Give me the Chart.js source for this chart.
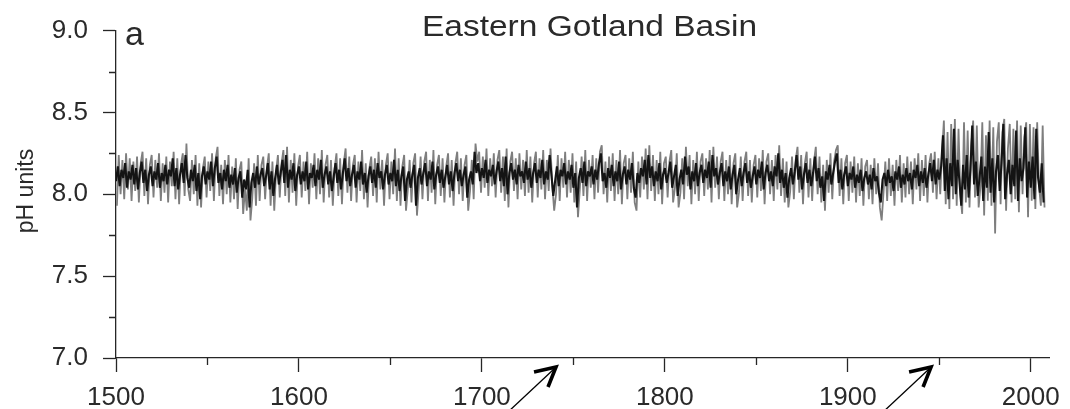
<!DOCTYPE html>
<html>
<head>
<meta charset="utf-8">
<script src="https://cdn.jsdelivr.net/npm/chart.js@4.4.1/dist/chart.umd.min.js"></script>
<style>
  html, body { margin: 0; padding: 0; background: #ffffff; }
  #wrap { width: 1070px; height: 409px; position: relative; }
</style>
</head>
<body>
<div id="wrap"><canvas id="c" width="1070" height="409"></canvas></div>
<script>
// ---------------- DATA ----------------
const chartTitle = "Eastern Gotland Basin";
const panelLabel = "a";
const yAxisTitle = "pH units";
const startYear = 1500;           // first sample year of both series
const xTickValues = [1500, 1600, 1700, 1800, 1900, 2000];
const xMinorTicks = [1550, 1650, 1750, 1850, 1950];
const yTickValues = [7.0, 7.5, 8.0, 8.5, 9.0];
const yMinorTicks = [7.25, 7.75, 8.25, 8.75];
const arrowYears = [1740.5, 1945.5];

// black series, one value per year 1500..2007
const blackPH = [
  8.08,8.17,8.05,8.15,8.10,8.19,8.04,8.14,8.09,8.18,
  8.06,8.16,8.03,8.13,8.20,8.07,8.15,8.02,8.12,8.17,
  8.05,8.14,8.09,8.19,8.04,8.13,8.08,8.18,8.06,8.15,
  8.11,8.22,8.05,8.16,8.03,8.12,8.19,8.07,8.24,8.10,
  8.04,8.15,8.08,8.18,8.02,8.13,7.97,8.11,8.17,8.06,
  8.14,8.09,8.20,8.05,8.16,8.23,8.07,8.13,8.03,8.15,
  8.08,8.18,8.04,8.12,8.06,8.16,8.01,8.10,8.14,7.98,
  8.09,8.03,8.15,7.92,8.07,8.13,8.04,8.17,8.06,8.12,
  8.16,8.05,8.11,8.19,8.03,8.14,7.99,8.10,8.18,8.06,
  8.13,8.21,8.07,8.24,8.04,8.15,8.09,8.19,8.02,8.12,
  8.17,8.06,8.14,8.08,8.20,8.03,8.13,8.10,8.18,8.05,
  8.15,8.09,8.21,8.04,8.12,8.17,8.06,8.14,8.02,8.11,
  8.19,8.07,8.15,8.03,8.13,8.22,8.08,8.16,8.05,8.12,
  8.18,8.04,8.14,8.09,8.20,8.06,8.13,8.01,8.11,8.17,
  8.07,8.15,8.04,8.19,8.10,8.14,8.03,8.12,8.18,8.06,
  8.13,8.08,8.21,8.05,8.15,8.02,8.11,8.17,7.96,8.09,
  8.14,8.04,8.12,8.18,7.93,8.10,8.16,8.06,8.13,8.19,
  8.05,8.14,8.09,8.20,8.03,8.12,8.17,8.07,8.15,8.04,
  8.11,8.18,8.06,8.14,8.02,8.13,8.19,8.08,8.15,8.05,
  8.12,8.17,7.98,8.09,8.14,8.06,8.26,8.13,8.19,8.08,
  8.16,8.10,8.21,8.07,8.15,8.11,8.18,8.06,8.14,8.20,
  8.08,8.16,8.05,8.23,8.00,8.13,8.19,8.09,8.15,8.06,
  8.18,8.11,8.14,8.07,8.20,8.09,8.16,8.04,8.13,8.19,
  8.07,8.15,8.10,8.21,8.06,8.14,8.09,8.24,8.12,7.99,
  8.08,8.17,8.05,8.15,8.11,8.19,8.06,8.14,8.09,8.18,
  8.04,8.13,7.92,8.10,8.16,8.07,8.20,8.05,8.14,8.11,
  8.17,8.06,8.15,8.09,8.19,8.25,8.08,8.13,8.04,8.16,
  8.10,8.18,8.05,8.14,8.08,8.20,8.03,8.12,8.17,8.06,
  8.15,8.09,8.19,8.04,7.98,8.13,8.07,8.16,8.11,8.21,
  8.06,8.24,8.10,8.17,8.05,8.14,8.08,8.19,8.03,8.12,
  8.16,8.07,8.13,8.20,8.04,8.11,8.18,7.99,8.09,8.15,
  8.06,8.23,8.12,8.17,8.03,8.14,8.08,8.19,8.05,8.13,
  8.18,8.07,8.15,8.10,8.20,8.04,8.24,8.11,8.16,8.06,
  8.13,8.19,8.05,8.14,8.08,8.17,8.03,8.12,8.18,8.00,
  8.09,8.16,8.05,8.13,8.19,8.07,8.14,8.04,8.11,8.17,
  8.06,8.15,8.10,8.20,8.03,8.13,8.18,8.08,8.14,8.05,
  8.17,8.11,8.25,8.07,8.15,8.04,8.13,7.98,8.10,8.16,
  8.06,8.14,8.24,8.09,8.17,8.03,8.12,8.19,8.07,8.15,
  8.05,8.13,8.23,8.08,8.16,8.04,8.11,7.96,8.14,8.09,
  8.18,8.06,8.13,8.20,8.25,8.07,8.15,8.03,8.12,8.17,
  8.05,8.13,8.09,8.17,8.04,8.12,8.07,8.15,8.02,8.10,
  8.14,8.06,8.12,8.03,8.16,8.08,8.11,8.01,7.95,8.09,
  8.13,8.05,8.15,8.07,8.11,8.02,8.14,8.09,8.17,8.04,
  8.12,8.06,8.16,8.08,8.13,8.03,8.15,8.10,8.18,8.05,
  8.14,8.07,8.16,8.04,8.12,8.19,8.08,8.21,8.06,8.15,
  8.09,8.17,8.36,8.02,8.22,7.97,8.19,8.05,8.40,8.00,
  8.21,8.08,7.93,8.18,8.03,8.24,7.98,8.15,8.42,8.06,
  8.20,7.99,8.10,8.23,7.96,8.17,8.04,8.38,8.01,8.22,
  7.95,8.14,8.24,8.02,8.19,8.43,7.97,8.12,8.21,8.00,
  8.18,8.05,8.39,7.96,8.22,8.08,8.16,8.41,7.98,8.20,
  8.04,8.23,7.97,8.40,8.10,8.01,8.19,7.95
];

// grey series, one value per year (mid-year) 1500..2007
const greyPH = [
  7.93,8.24,8.00,8.21,7.97,8.25,8.03,8.22,7.96,8.20,
  8.02,8.23,7.95,8.19,8.26,7.99,8.22,7.94,8.18,8.24,
  7.98,8.21,8.04,8.25,7.96,8.19,8.01,8.23,7.95,8.20,
  8.05,8.26,7.97,8.22,7.94,8.18,8.25,7.99,8.31,8.03,
  7.96,8.21,8.00,8.24,7.93,8.19,7.92,8.16,8.23,7.98,
  8.20,8.02,8.25,7.96,8.22,8.29,7.99,8.18,7.94,8.21,
  8.00,8.24,7.95,8.17,7.97,8.22,7.91,8.15,8.20,7.88,
  8.03,7.90,8.22,7.84,7.98,8.19,7.93,8.24,7.96,8.18,
  8.23,7.97,8.16,8.25,7.93,8.20,7.90,8.14,8.24,7.98,
  8.19,8.27,7.99,8.29,7.95,8.21,8.01,8.25,7.93,8.17,
  8.24,7.98,8.20,8.02,8.26,7.94,8.19,8.04,8.25,7.97,
  8.22,8.00,8.27,7.95,8.18,8.24,7.98,8.21,7.93,8.16,
  8.25,7.99,8.22,7.94,8.19,8.28,8.01,8.23,7.96,8.18,
  8.24,7.95,8.20,8.02,8.27,7.97,8.19,7.92,8.16,8.23,
  7.99,8.22,7.95,8.26,8.03,8.21,7.93,8.18,8.25,7.97,
  8.20,8.00,8.28,7.96,8.22,7.93,8.17,8.24,7.90,8.03,
  8.21,7.95,8.19,8.25,7.87,8.04,8.23,7.97,8.20,8.26,
  7.96,8.21,8.01,8.27,7.94,8.18,8.24,7.99,8.22,7.95,
  8.17,8.25,7.98,8.21,7.93,8.19,8.26,8.00,8.22,7.96,
  8.18,8.24,7.90,8.02,8.21,7.97,8.31,8.20,8.26,8.01,
  8.23,8.04,8.28,7.99,8.22,8.05,8.25,7.98,8.21,8.27,
  8.01,8.23,7.96,8.28,7.92,8.20,8.26,8.02,8.22,7.97,
  8.25,8.03,8.21,7.99,8.27,8.01,8.23,7.95,8.19,8.26,
  7.98,8.22,8.03,8.27,7.97,8.21,8.02,8.28,8.05,7.90,
  8.00,8.24,7.96,8.22,8.04,8.26,7.98,8.21,8.01,8.25,
  7.95,8.20,7.86,8.03,8.23,7.99,8.27,7.96,8.21,8.04,
  8.24,7.97,8.22,8.01,8.26,8.30,8.00,8.20,7.95,8.23,
  8.02,8.25,7.96,8.21,8.00,8.27,7.94,8.19,8.24,7.97,
  8.22,8.01,8.26,7.95,7.90,8.20,7.98,8.23,8.03,8.28,
  7.97,8.30,8.02,8.24,7.96,8.21,8.00,8.26,7.94,8.19,
  8.23,7.98,8.20,8.27,7.95,8.04,8.25,7.92,8.01,8.22,
  7.97,8.29,8.05,8.24,7.94,8.21,8.00,8.26,7.96,8.20,
  8.25,7.99,8.22,8.03,8.27,7.95,8.29,8.04,8.23,7.97,
  8.20,8.26,7.96,8.21,8.00,8.24,7.94,8.19,8.25,7.92,
  8.01,8.23,7.96,8.20,8.26,7.99,8.21,7.95,8.18,8.24,
  7.98,8.22,8.02,8.27,7.94,8.20,8.25,8.00,8.21,7.96,
  8.24,8.03,8.30,7.99,8.22,7.95,8.20,7.92,8.02,8.23,
  7.97,8.21,8.29,8.01,8.24,7.94,8.19,8.26,7.98,8.22,
  7.96,8.20,8.29,8.00,8.23,7.95,8.18,7.90,8.21,8.01,
  8.25,7.97,8.20,8.27,8.30,7.99,8.22,7.94,8.19,8.24,
  7.96,8.20,8.01,8.23,7.95,8.19,7.99,8.22,7.93,8.17,
  8.21,7.97,8.18,7.94,8.22,8.00,8.19,7.92,7.84,8.01,
  8.20,7.96,8.22,7.99,8.18,7.93,8.21,8.02,8.24,7.95,
  8.19,7.98,8.23,8.00,8.20,7.94,8.22,8.03,8.25,7.96,
  8.21,7.99,8.24,7.95,8.19,8.25,8.01,8.26,7.97,8.22,
  8.00,8.25,8.45,7.94,8.38,7.91,8.43,7.97,8.46,7.93,
  8.40,8.00,7.88,8.44,7.95,8.39,7.92,8.30,8.45,7.98,
  8.42,7.92,8.05,8.44,7.87,8.36,7.96,8.45,7.93,8.41,
  7.76,8.32,8.44,7.94,8.38,8.46,7.90,8.28,8.43,7.95,
  8.40,7.97,8.45,7.89,8.42,8.00,8.35,8.44,7.86,8.43,
  7.96,8.41,7.91,8.44,8.05,7.93,8.42,7.92
];

// ---------------- CHART ----------------
const FONT = "'Liberation Sans', Arial, Helvetica, sans-serif";
const TEXT = '#2a2a2a';
const AXIS = '#262626';

const blackPts = blackPH.map((v, i) => ({ x: startYear + i, y: v }));
const greyPts = greyPH.map((v, i) => ({ x: startYear + i + 0.5, y: v }));

const decorPlugin = {
  id: 'decor',
  afterDraw(chart) {
    const ctx = chart.ctx;
    const xs = chart.scales.x, ys = chart.scales.y;
    const area = chart.chartArea;
    ctx.save();
    // minor ticks
    ctx.strokeStyle = AXIS;
    ctx.lineWidth = 1.3;
    ctx.beginPath();
    yMinorTicks.forEach(v => {
      const py = Math.round(ys.getPixelForValue(v)) + 0.5;
      ctx.moveTo(area.left - 7, py); ctx.lineTo(area.left, py);
    });
    xMinorTicks.forEach(v => {
      const px = Math.round(xs.getPixelForValue(v)) + 0.5;
      ctx.moveTo(px, area.bottom); ctx.lineTo(px, area.bottom + 7);
    });
    ctx.stroke();

    // title
    ctx.fillStyle = TEXT;
    ctx.font = '30px ' + FONT;
    ctx.textBaseline = 'alphabetic';
    ctx.textAlign = 'left';
    const tw = ctx.measureText(chartTitle).width;
    const targetW = 335;
    ctx.save();
    ctx.translate(589.5 - targetW / 2, 36);
    ctx.scale(targetW / tw, 1);
    ctx.fillText(chartTitle, 0, 0);
    ctx.restore();

    // panel label
    ctx.font = '34px ' + FONT;
    ctx.fillText(panelLabel, area.left + 9, 45);

    // y-axis title
    ctx.save();
    ctx.font = '23px ' + FONT;
    ctx.textAlign = 'center';
    ctx.textBaseline = 'middle';
    ctx.translate(27, 191);
    ctx.rotate(-Math.PI / 2);
    ctx.fillText(yAxisTitle, 0, 0);
    ctx.restore();

    // arrows below the axis
    ctx.strokeStyle = '#000';
    arrowYears.forEach(yr => {
      const tx = xs.getPixelForValue(yr);
      const ty = area.bottom + 9;
      ctx.lineWidth = 1.3;
      ctx.beginPath();
      ctx.moveTo(tx - 2, ty + 2);
      ctx.lineTo(tx - 48, 412);
      ctx.stroke();
      ctx.lineWidth = 3.6;
      ctx.lineJoin = 'miter';
      ctx.beginPath();
      ctx.moveTo(tx - 22, ty + 5);
      ctx.lineTo(tx, ty);
      ctx.lineTo(tx - 8, ty + 20);
      ctx.stroke();
    });
    ctx.restore();
  }
};

new Chart(document.getElementById('c'), {
  type: 'line',
  data: {
    datasets: [
      { label: 'black', data: blackPts, borderColor: '#141414', borderWidth: 2.1, borderJoinStyle: 'bevel', pointRadius: 0, tension: 0, order: 0 },
      { label: 'grey', data: greyPts, borderColor: '#7e7e7e', borderWidth: 1.8, borderJoinStyle: 'bevel', pointRadius: 0, tension: 0, order: 1 }
    ]
  },
  options: {
    responsive: false,
    animation: false,
    parsing: false,
    normalized: true,
    layout: { padding: { left: 0, right: 15, top: 23, bottom: 0 } },
    plugins: { legend: { display: false }, tooltip: { enabled: false }, title: { display: false } },
    scales: {
      x: {
        type: 'linear',
        min: 1500, max: 2010,
        afterBuildTicks: s => { s.ticks = xTickValues.map(v => ({ value: v })); },
        afterFit: s => { s.height = 51; },
        grid: { display: true, drawOnChartArea: false, drawTicks: true, tickLength: 14, tickColor: AXIS, tickWidth: 1.3 },
        border: { display: true, color: AXIS, width: 1.3 },
        ticks: { autoSkip: false, maxRotation: 0, padding: 10, color: TEXT, font: { family: FONT, size: 26 },
                 callback: v => String(v) }
      },
      y: {
        type: 'linear',
        min: 7.0, max: 9.0,
        afterBuildTicks: s => { s.ticks = yTickValues.map(v => ({ value: v })); },
        afterFit: s => { s.width = 116; },
        grid: { display: true, drawOnChartArea: false, drawTicks: true, tickLength: 13, tickColor: AXIS, tickWidth: 1.3 },
        border: { display: true, color: AXIS, width: 1.3 },
        ticks: { padding: 15, color: TEXT, font: { family: FONT, size: 26 },
                 callback: v => Number(v).toFixed(1) }
      }
    }
  },
  plugins: [decorPlugin]
});
</script>
</body>
</html>
